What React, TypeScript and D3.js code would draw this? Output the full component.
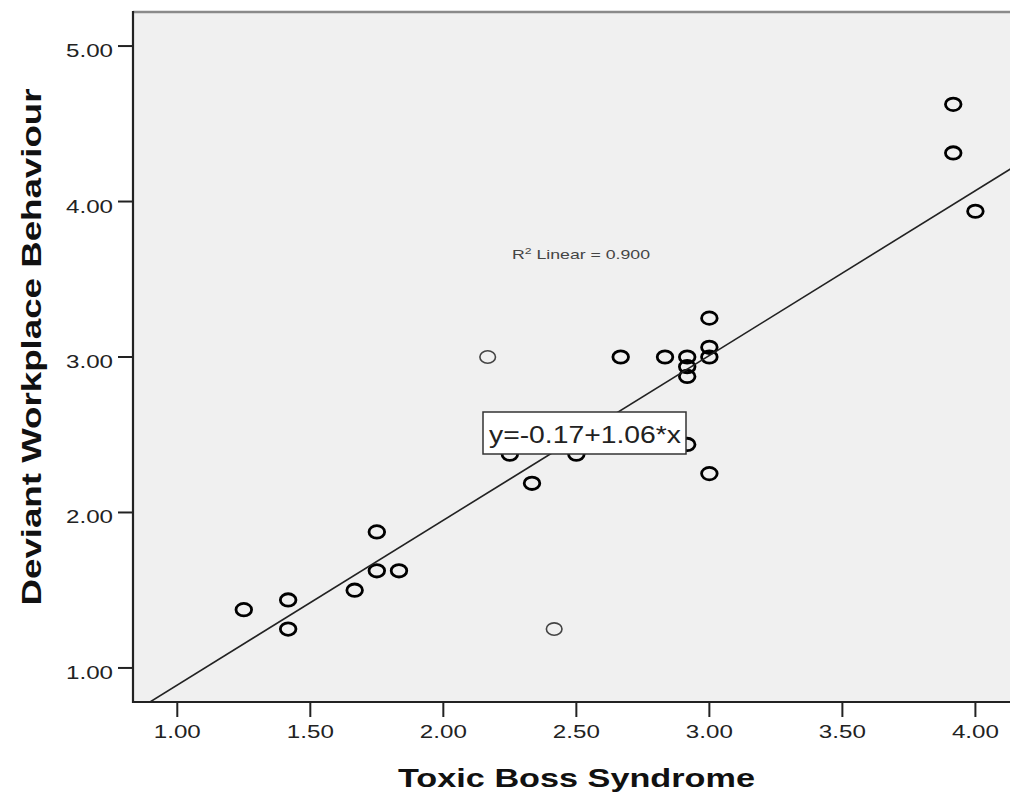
import React from "react";
import * as d3 from "d3";

// Data
const toxicBoss = [3.9167, 3.9167, 4.0, 3.0, 3.0, 3.0, 2.9167, 2.9167, 2.9167, 2.8333, 2.6667, 2.1667, 2.9167, 3.0, 2.5, 2.25, 2.3333, 1.75, 1.75, 1.8333, 1.6667, 1.4167, 1.4167, 1.25, 2.4167];
const deviant = [4.625, 4.3125, 3.9375, 3.25, 3.0625, 3.0, 3.0, 2.9375, 2.875, 3.0, 3.0, 3.0, 2.4375, 2.25, 2.375, 2.375, 2.1875, 1.875, 1.625, 1.625, 1.5, 1.4375, 1.25, 1.375, 1.25];
const caseCounts = [2, 2, 2, 2, 2, 2, 2, 2, 2, 2, 2, 1, 2, 2, 2, 2, 2, 2, 2, 2, 2, 2, 2, 2, 1];
const xTicks = [1.0, 1.5, 2.0, 2.5, 3.0, 3.5, 4.0];
const yTicks = [1.0, 2.0, 3.0, 4.0, 5.0];
const intercept = -0.17;
const slope = 1.06;
const rSquared = 0.9;
const xTitle = "Toxic Boss Syndrome";
const yTitle = "Deviant Workplace Behaviour";

const W = 1010;
const H = 795;
const plotLeft = 133;
const plotTop = 12;
const plotBottom = 702;
const plotRight = 1019.7;

export default function App() {
  const x = d3.scaleLinear().domain([0.8335, 4.1665]).range([plotLeft, plotRight]);
  const y = d3.scaleLinear().domain([0.781, 5.219]).range([plotBottom, plotTop]);
  const fmt = d3.format(".2f");
  const [x0, x1] = x.domain();
  const linePath = d3.line<number>()
    .x((d) => x(d))
    .y((d) => y(intercept + slope * d))([x0, x1]);

  const font = "'Liberation Sans', Arial, sans-serif";

  return (
    <svg width={W} height={H} style={{ position: "absolute", left: 0, top: 0, background: "#fff" }}>
      <defs>
        <clipPath id="plotClip">
          <rect x={plotLeft} y={plotTop} width={plotRight - plotLeft} height={plotBottom - plotTop} />
        </clipPath>
      </defs>
      <rect x={plotLeft} y={plotTop} width={plotRight - plotLeft} height={plotBottom - plotTop} fill="#f0f0f0" />

      {/* points */}
      <g clipPath="url(#plotClip)">
        {toxicBoss.map((v, i) => (
          <ellipse
            key={i}
            cx={x(v)}
            cy={y(deviant[i])}
            rx={7.8}
            ry={6.2}
            fill="none"
            stroke={caseCounts[i] > 1 ? "#000" : "#444"}
            strokeWidth={caseCounts[i] > 1 ? 2.8 : 1.6}
          />
        ))}
        <path d={linePath || ""} stroke="#222" strokeWidth={1.6} fill="none" />
      </g>

      {/* borders */}
      <line x1={plotLeft} x2={W} y1={plotTop} y2={plotTop} stroke="#8a8a8a" strokeWidth={2.4} />
      <line x1={plotLeft} x2={plotLeft} y1={plotTop - 1} y2={plotBottom + 1} stroke="#222" strokeWidth={2.2} />
      <line x1={plotLeft} x2={W} y1={plotBottom} y2={plotBottom} stroke="#222" strokeWidth={2.2} />

      {/* y ticks */}
      {yTicks.map((t) => (
        <g key={"y" + t}>
          <line x1={118} x2={plotLeft} y1={y(t)} y2={y(t)} stroke="#222" strokeWidth={2} />
          <text
            x={113}
            y={y(t) + 11}
            textAnchor="end"
            fontFamily={font}
            fontSize={19}
            fill="#222"
            textLength={47}
            lengthAdjust="spacingAndGlyphs"
          >
            {fmt(t)}
          </text>
        </g>
      ))}

      {/* x ticks */}
      {xTicks.map((t) => (
        <g key={"x" + t}>
          <line x1={x(t)} x2={x(t)} y1={plotBottom} y2={717} stroke="#222" strokeWidth={2} />
          <text
            x={x(t)}
            y={738}
            textAnchor="middle"
            fontFamily={font}
            fontSize={19}
            fill="#222"
            textLength={47}
            lengthAdjust="spacingAndGlyphs"
          >
            {fmt(t)}
          </text>
        </g>
      ))}

      {/* R squared label */}
      <text x={512} y={259} fontFamily={font} fontSize={13} fill="#444" textLength={138} lengthAdjust="spacingAndGlyphs">
        R<tspan dy={-5} fontSize={9}>2</tspan>
        <tspan dy={5}> Linear = {rSquared.toFixed(3)}</tspan>
      </text>

      {/* equation box */}
      <rect x={483} y={412} width={203} height={42} fill="#fff" stroke="#333" strokeWidth={1.5} />
      <text x={489} y={443} fontFamily={font} fontSize={24} fill="#222" textLength={192} lengthAdjust="spacingAndGlyphs">
        {`y=${intercept.toFixed(2)}+${slope.toFixed(2)}*x`}
      </text>

      {/* axis titles */}
      <text
        x={(398 + 755) / 2}
        y={787}
        textAnchor="middle"
        fontFamily={font}
        fontWeight="bold"
        fontSize={26}
        fill="#111"
        textLength={357}
        lengthAdjust="spacingAndGlyphs"
      >
        {xTitle}
      </text>
      <text
        transform={`translate(41, 347) rotate(-90)`}
        textAnchor="middle"
        fontFamily={font}
        fontWeight="bold"
        fontSize={28}
        fill="#111"
        textLength={517}
        lengthAdjust="spacingAndGlyphs"
      >
        {yTitle}
      </text>
    </svg>
  );
}
